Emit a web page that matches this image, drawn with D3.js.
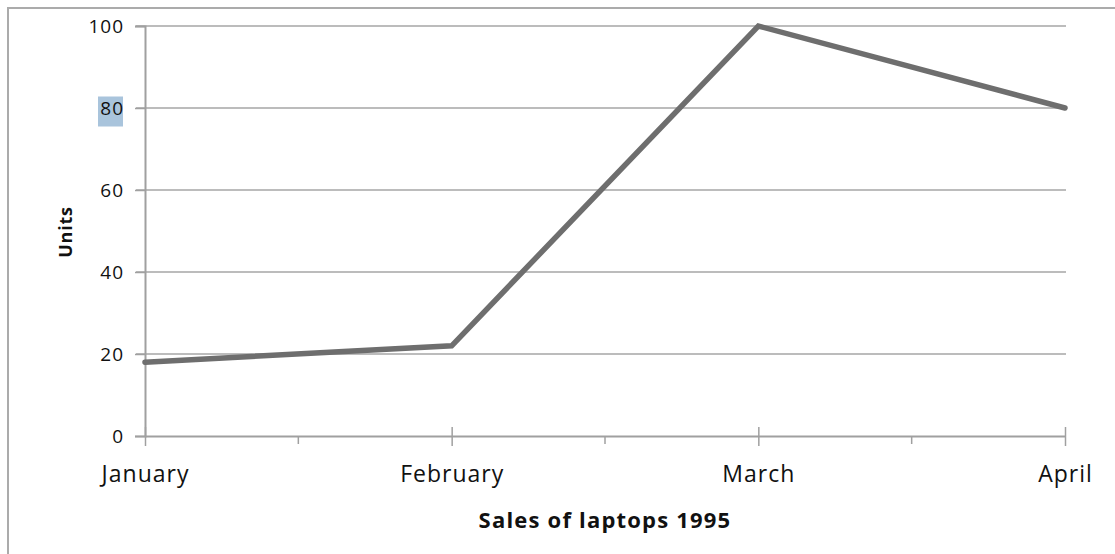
<!DOCTYPE html>
<html>
<head>
<meta charset="utf-8">
<script src="https://cdn.jsdelivr.net/npm/d3@7"></script>
<style>
  html, body { margin: 0; padding: 0; background: #fff; }
  svg { display: block; }
  text { font-family: "Open Sans", "Liberation Sans", sans-serif; fill: #111; }
</style>
</head>
<body>
<svg id="chart" width="1115" height="554"></svg>
<script>
const months = ["January", "February", "March", "April"];
const units = [18, 22, 100, 80];
const yTicks = [0, 20, 40, 60, 80, 100];
const xTitle = "Sales of laptops 1995";
const yTitle = "Units";

const svg = d3.select("#chart");
const W = 1115, H = 554;

// outer frame
svg.append("path")
  .attr("d", `M8,${H + 2}V8H${W + 2}`)
  .attr("fill", "none").attr("stroke", "#ababab").attr("stroke-width", 2);

const x = d3.scalePoint().domain(months).range([145, 1065]);
const y = d3.scaleLinear().domain([0, 100]).range([436, 26]);

// gridlines
svg.append("g").selectAll("line").data(yTicks.filter(d => d > 0)).join("line")
  .attr("x1", 136).attr("x2", 1066)
  .attr("y1", d => y(d)).attr("y2", d => y(d))
  .attr("stroke", "#a6a6a6").attr("stroke-width", 1.5);

// y axis
const yAxis = svg.append("g").attr("transform", "translate(145,0)")
  .call(d3.axisLeft(y).tickValues(yTicks).tickSize(10).tickPadding(11).tickFormat(d3.format("d")));
yAxis.attr("font-size", null).attr("font-family", null);
yAxis.select(".domain").attr("stroke", "#a0a0a0").attr("stroke-width", 2);
yAxis.selectAll(".tick line").attr("stroke", "#a0a0a0").attr("stroke-width", 1.5);
yAxis.selectAll(".tick text").style("font-size", "19px").style("letter-spacing", "1px")
  .style("font-weight", "500").attr("fill", "#111").attr("dy", "0.36em");

// highlight behind "80"
yAxis.selectAll(".tick").filter(d => d === 80).insert("rect", "text")
  .attr("x", -47).attr("y", -12).attr("width", 25).attr("height", 30)
  .attr("fill", "#a9c4dc");

// x axis
const xAxis = svg.append("g").attr("transform", "translate(0,436)")
  .call(d3.axisBottom(x).tickSize(10).tickSizeOuter(0).tickPadding(20));
xAxis.attr("font-size", null).attr("font-family", null);
xAxis.select(".domain").attr("stroke", "#a0a0a0").attr("stroke-width", 2)
  .attr("d", `M${x(months[0])},0.5H${x(months[3])}`);
xAxis.selectAll(".tick line").attr("y1", -9).attr("y2", 10)
  .attr("stroke", "#a0a0a0").attr("stroke-width", 1.5);
xAxis.selectAll(".tick text").style("font-size", "23px").style("letter-spacing", "1px")
  .style("font-weight", "500").attr("fill", "#111");

// minor ticks at midpoints
const mids = months.slice(1).map((m, i) => (x(m) + x(months[i])) / 2);
svg.append("g").selectAll("line").data(mids).join("line")
  .attr("x1", d => d).attr("x2", d => d)
  .attr("y1", 436).attr("y2", 444)
  .attr("stroke", "#a0a0a0").attr("stroke-width", 1.5);

// line
svg.append("path")
  .datum(months.map((m, i) => [m, units[i]]))
  .attr("fill", "none").attr("stroke", "#6e6e6e").attr("stroke-width", 5.5)
  .attr("stroke-linejoin", "miter").attr("stroke-linecap", "round")
  .attr("d", d3.line().x(d => x(d[0])).y(d => y(d[1])));

// axis titles
svg.append("text").attr("x", 605).attr("y", 528).attr("text-anchor", "middle")
  .style("font-size", "22px").style("letter-spacing", "1.2px").attr("font-weight", "bold").text(xTitle);
svg.append("text").attr("transform", "translate(72,232) rotate(-90)")
  .attr("text-anchor", "middle").style("font-size", "18px").style("letter-spacing", "0.8px")
  .attr("font-weight", "bold").text(yTitle);
</script>
</body>
</html>
